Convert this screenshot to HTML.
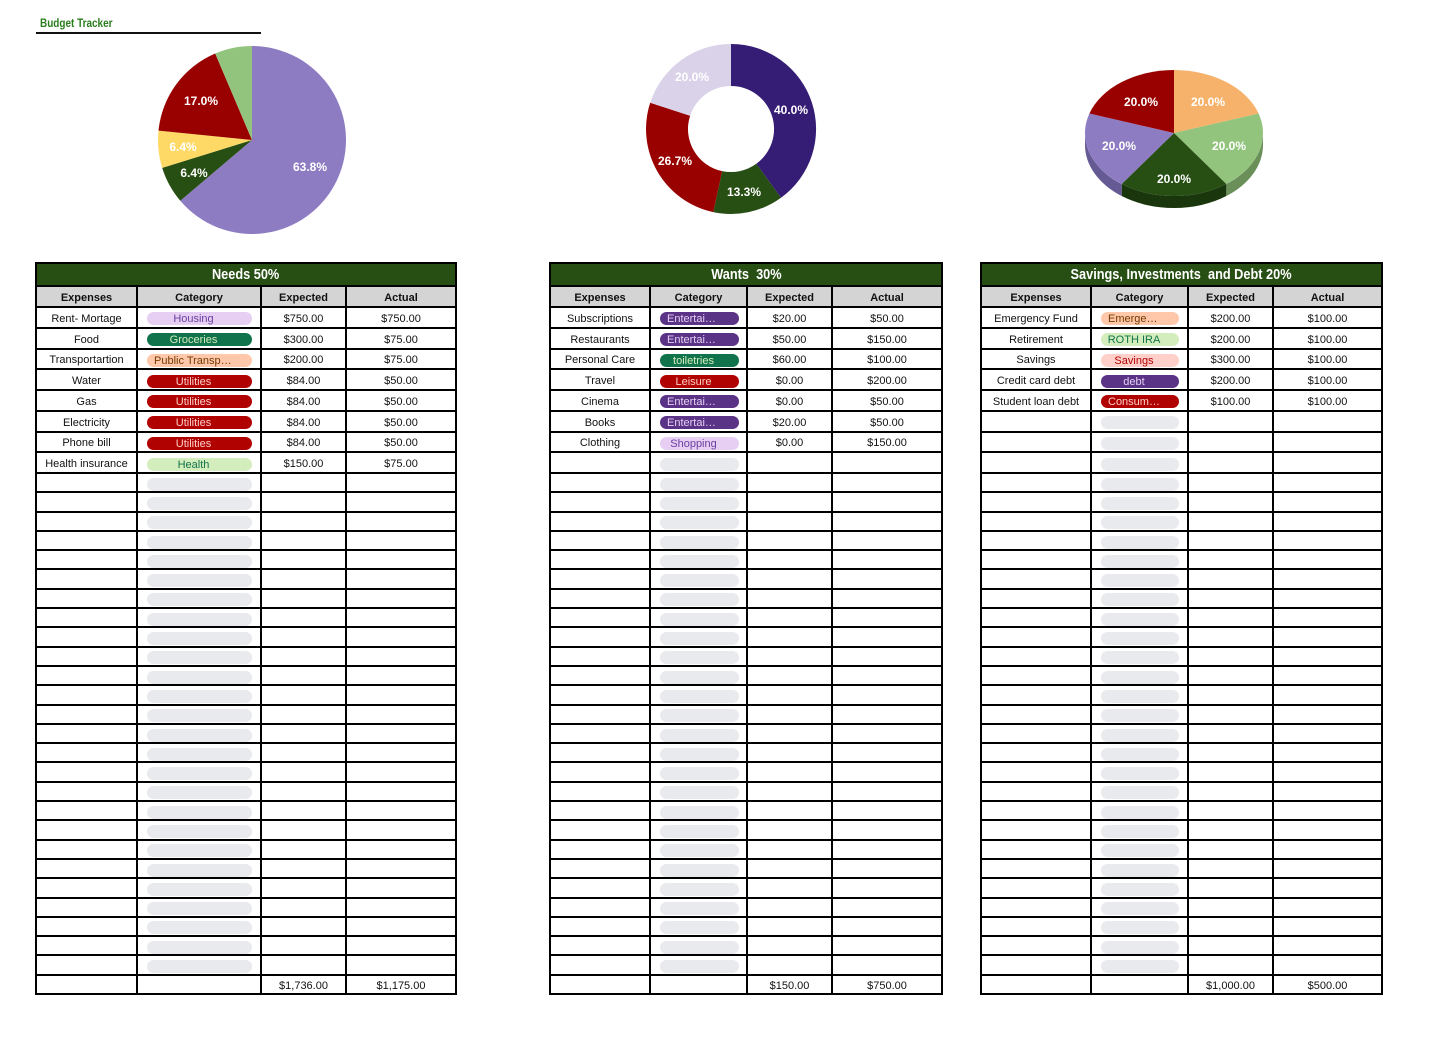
<!DOCTYPE html>
<html><head><meta charset="utf-8"><style>
*{margin:0;padding:0}
body{width:1445px;height:1040px;background:#fff;position:relative;overflow:hidden;font-family:"Liberation Sans",Arial,sans-serif;color:#111}
.bt{position:absolute;left:40px;top:16px;font-size:12px;font-weight:bold;color:#2a7d1c;transform:scaleX(.83);transform-origin:left top;white-space:nowrap}
.ul{position:absolute;left:36px;top:32px;width:225px;height:2px;background:#111}
.t{position:absolute;top:262px;height:733px;border:2px solid #000;box-sizing:border-box;display:flex;flex-direction:column}
.ttl{height:23px;flex:none;box-sizing:border-box;border-bottom:2px solid #000;background:#274e13;color:#fff;display:flex;align-items:center;justify-content:center}
.ttl span{display:inline-block;font-size:15px;font-weight:bold;transform:scaleX(.85);white-space:pre}
.r{display:flex;flex:none;box-sizing:border-box;border-bottom:2px solid #000;height:19.3px}
.r.d{height:20.75px}
.r.hd{height:21px;background:#d4d4d4;font-weight:bold}
.r.ft{border-bottom:none;flex:1}
.r>i{font-style:normal;box-sizing:border-box;border-right:2px solid #000;display:flex;align-items:center;justify-content:center;font-size:11px;overflow:hidden;white-space:nowrap;padding-top:3px}
.r>i:last-child{border-right:none;flex:1}
.r:not(.hd)>i:nth-child(2){justify-content:flex-start;padding-left:9px}
.p{display:block;flex:none;height:13px;border-radius:7px;font-weight:normal;font-size:11px;line-height:14px;text-align:center;padding-right:12px;box-sizing:border-box;overflow:hidden;white-space:nowrap}
.p.l{text-align:left;padding:0 0 0 7px}
.e{background:#e8eaed}
.hs{background:#e6cff2;color:#6a3fa0}
.gr{background:#11734b;color:#d4edbc}
.pt{background:#ffc8aa;color:#753800}
.ut{background:#b10202;color:#ffcfc9}
.he{background:#d4edbc;color:#11734b}
.en{background:#5a3286;color:#e5cff2}
.sv{background:#ffcfc9;color:#b10202}
#n{left:35px;width:422px}
#n .r>i:nth-child(1){width:101px}#n .r>i:nth-child(2){width:124px}#n .r>i:nth-child(3){width:85px}
#n .p{width:105px}
#w{left:549px;width:394px}
#w .r>i:nth-child(1){width:100px}#w .r>i:nth-child(2){width:97px}#w .r>i:nth-child(3){width:85px}
#w .p{width:79px}
#s{left:980px;width:403px}
#s .r>i:nth-child(1){width:110px}#s .r>i:nth-child(2){width:97px}#s .r>i:nth-child(3){width:85px}
#s .p{width:78px}
svg{position:absolute;left:0;top:0}
svg text{font-family:"Liberation Sans",Arial,sans-serif;font-weight:bold;font-size:12px;fill:#fff;text-anchor:middle}
</style></head><body>
<div class="bt">Budget Tracker</div>
<div class="ul"></div>
<svg width="1445" height="260" viewBox="0 0 1445 260">
<path d="M252,140 L252,46 A94,94 0 1 1 180.3,200.8 Z" fill="#8e7cc3"/>
<path d="M252,140 L180.3,200.8 A94,94 0 0 1 162.2,167.9 Z" fill="#274e13"/>
<path d="M252,140 L162.2,167.9 A94,94 0 0 1 158.5,130.6 Z" fill="#ffd966"/>
<path d="M252,140 L158.5,130.6 A94,94 0 0 1 215.2,53.5 Z" fill="#990000"/>
<path d="M252,140 L215.2,53.5 A94,94 0 0 1 252,46 Z" fill="#93c47d"/>
<text x="310" y="171">63.8%</text>
<text x="201" y="105">17.0%</text>
<text x="183" y="151">6.4%</text>
<text x="194" y="177">6.4%</text>

<path d="M731,44 A85,85 0 0 1 781,197.8 L756.3,163.8 A43,43 0 0 0 731,86 Z" fill="#351c75"/>
<path d="M781,197.8 A85,85 0 0 1 713.3,212.1 L722.1,171.1 A43,43 0 0 0 756.3,163.8 Z" fill="#274e13"/>
<path d="M713.3,212.1 A85,85 0 0 1 650.2,102.7 L690.1,115.7 A43,43 0 0 0 722.1,171.1 Z" fill="#990000"/>
<path d="M650.2,102.7 A85,85 0 0 1 731,44 L731,86 A43,43 0 0 0 690.1,115.7 Z" fill="#d9d2e9"/>
<text x="791" y="114">40.0%</text>
<text x="744" y="196">13.3%</text>
<text x="675" y="165">26.7%</text>
<text x="692" y="81">20.0%</text>

<path d="M1263,133 A89,63 0 0 1 1226.3,184 L1226.3,196 A89,63 0 0 0 1263,145 Z" fill="#6a8f58"/>
<path d="M1226.3,184 A89,63 0 0 1 1121.7,184 L1121.7,196 A89,63 0 0 0 1226.3,196 Z" fill="#1a360c"/>
<path d="M1121.7,184 A89,63 0 0 1 1085,133 L1085,145 A89,63 0 0 0 1121.7,196 Z" fill="#665a95"/>
<path d="M1174,133 L1174,70 A89,63 0 0 1 1258.6,113.5 Z" fill="#f6b26b"/>
<path d="M1174,133 L1258.6,113.5 A89,63 0 0 1 1226.3,184 Z" fill="#93c47d"/>
<path d="M1174,133 L1226.3,184 A89,63 0 0 1 1121.7,184 Z" fill="#274e13"/>
<path d="M1174,133 L1121.7,184 A89,63 0 0 1 1089.4,113.5 Z" fill="#8e7cc3"/>
<path d="M1174,133 L1089.4,113.5 A89,63 0 0 1 1174,70 Z" fill="#990000"/>
<text x="1141" y="106">20.0%</text>
<text x="1208" y="106">20.0%</text>
<text x="1229" y="150">20.0%</text>
<text x="1174" y="183">20.0%</text>
<text x="1119" y="150">20.0%</text>
</svg>

<div class="t" id="n">
<div class="ttl"><span>Needs 50%</span></div>
<div class="r hd"><i>Expenses</i><i>Category</i><i>Expected</i><i>Actual</i></div>
<div class="r d"><i>Rent- Mortage</i><i><b class="p hs">Housing</b></i><i>$750.00</i><i>$750.00</i></div>
<div class="r d"><i>Food</i><i><b class="p gr">Groceries</b></i><i>$300.00</i><i>$75.00</i></div>
<div class="r d"><i>Transportartion</i><i><b class="p pt l">Public Transp…</b></i><i>$200.00</i><i>$75.00</i></div>
<div class="r d"><i>Water</i><i><b class="p ut">Utilities</b></i><i>$84.00</i><i>$50.00</i></div>
<div class="r d"><i>Gas</i><i><b class="p ut">Utilities</b></i><i>$84.00</i><i>$50.00</i></div>
<div class="r d"><i>Electricity</i><i><b class="p ut">Utilities</b></i><i>$84.00</i><i>$50.00</i></div>
<div class="r d"><i>Phone bill</i><i><b class="p ut">Utilities</b></i><i>$84.00</i><i>$50.00</i></div>
<div class="r d"><i>Health insurance</i><i><b class="p he">Health</b></i><i>$150.00</i><i>$75.00</i></div>
<div class="r"><i></i><i><b class="p e"></b></i><i></i><i></i></div>
<div class="r"><i></i><i><b class="p e"></b></i><i></i><i></i></div>
<div class="r"><i></i><i><b class="p e"></b></i><i></i><i></i></div>
<div class="r"><i></i><i><b class="p e"></b></i><i></i><i></i></div>
<div class="r"><i></i><i><b class="p e"></b></i><i></i><i></i></div>
<div class="r"><i></i><i><b class="p e"></b></i><i></i><i></i></div>
<div class="r"><i></i><i><b class="p e"></b></i><i></i><i></i></div>
<div class="r"><i></i><i><b class="p e"></b></i><i></i><i></i></div>
<div class="r"><i></i><i><b class="p e"></b></i><i></i><i></i></div>
<div class="r"><i></i><i><b class="p e"></b></i><i></i><i></i></div>
<div class="r"><i></i><i><b class="p e"></b></i><i></i><i></i></div>
<div class="r"><i></i><i><b class="p e"></b></i><i></i><i></i></div>
<div class="r"><i></i><i><b class="p e"></b></i><i></i><i></i></div>
<div class="r"><i></i><i><b class="p e"></b></i><i></i><i></i></div>
<div class="r"><i></i><i><b class="p e"></b></i><i></i><i></i></div>
<div class="r"><i></i><i><b class="p e"></b></i><i></i><i></i></div>
<div class="r"><i></i><i><b class="p e"></b></i><i></i><i></i></div>
<div class="r"><i></i><i><b class="p e"></b></i><i></i><i></i></div>
<div class="r"><i></i><i><b class="p e"></b></i><i></i><i></i></div>
<div class="r"><i></i><i><b class="p e"></b></i><i></i><i></i></div>
<div class="r"><i></i><i><b class="p e"></b></i><i></i><i></i></div>
<div class="r"><i></i><i><b class="p e"></b></i><i></i><i></i></div>
<div class="r"><i></i><i><b class="p e"></b></i><i></i><i></i></div>
<div class="r"><i></i><i><b class="p e"></b></i><i></i><i></i></div>
<div class="r"><i></i><i><b class="p e"></b></i><i></i><i></i></div>
<div class="r"><i></i><i><b class="p e"></b></i><i></i><i></i></div>
<div class="r ft"><i></i><i></i><i>$1,736.00</i><i>$1,175.00</i></div>
</div>

<div class="t" id="w">
<div class="ttl"><span>Wants  30%</span></div>
<div class="r hd"><i>Expenses</i><i>Category</i><i>Expected</i><i>Actual</i></div>
<div class="r d"><i>Subscriptions</i><i><b class="p en l">Entertai…</b></i><i>$20.00</i><i>$50.00</i></div>
<div class="r d"><i>Restaurants</i><i><b class="p en l">Entertai…</b></i><i>$50.00</i><i>$150.00</i></div>
<div class="r d"><i>Personal Care</i><i><b class="p gr">toiletries</b></i><i>$60.00</i><i>$100.00</i></div>
<div class="r d"><i>Travel</i><i><b class="p ut">Leisure</b></i><i>$0.00</i><i>$200.00</i></div>
<div class="r d"><i>Cinema</i><i><b class="p en l">Entertai…</b></i><i>$0.00</i><i>$50.00</i></div>
<div class="r d"><i>Books</i><i><b class="p en l">Entertai…</b></i><i>$20.00</i><i>$50.00</i></div>
<div class="r d"><i>Clothing</i><i><b class="p hs">Shopping</b></i><i>$0.00</i><i>$150.00</i></div>
<div class="r d"><i></i><i><b class="p e"></b></i><i></i><i></i></div>
<div class="r"><i></i><i><b class="p e"></b></i><i></i><i></i></div>
<div class="r"><i></i><i><b class="p e"></b></i><i></i><i></i></div>
<div class="r"><i></i><i><b class="p e"></b></i><i></i><i></i></div>
<div class="r"><i></i><i><b class="p e"></b></i><i></i><i></i></div>
<div class="r"><i></i><i><b class="p e"></b></i><i></i><i></i></div>
<div class="r"><i></i><i><b class="p e"></b></i><i></i><i></i></div>
<div class="r"><i></i><i><b class="p e"></b></i><i></i><i></i></div>
<div class="r"><i></i><i><b class="p e"></b></i><i></i><i></i></div>
<div class="r"><i></i><i><b class="p e"></b></i><i></i><i></i></div>
<div class="r"><i></i><i><b class="p e"></b></i><i></i><i></i></div>
<div class="r"><i></i><i><b class="p e"></b></i><i></i><i></i></div>
<div class="r"><i></i><i><b class="p e"></b></i><i></i><i></i></div>
<div class="r"><i></i><i><b class="p e"></b></i><i></i><i></i></div>
<div class="r"><i></i><i><b class="p e"></b></i><i></i><i></i></div>
<div class="r"><i></i><i><b class="p e"></b></i><i></i><i></i></div>
<div class="r"><i></i><i><b class="p e"></b></i><i></i><i></i></div>
<div class="r"><i></i><i><b class="p e"></b></i><i></i><i></i></div>
<div class="r"><i></i><i><b class="p e"></b></i><i></i><i></i></div>
<div class="r"><i></i><i><b class="p e"></b></i><i></i><i></i></div>
<div class="r"><i></i><i><b class="p e"></b></i><i></i><i></i></div>
<div class="r"><i></i><i><b class="p e"></b></i><i></i><i></i></div>
<div class="r"><i></i><i><b class="p e"></b></i><i></i><i></i></div>
<div class="r"><i></i><i><b class="p e"></b></i><i></i><i></i></div>
<div class="r"><i></i><i><b class="p e"></b></i><i></i><i></i></div>
<div class="r"><i></i><i><b class="p e"></b></i><i></i><i></i></div>
<div class="r"><i></i><i><b class="p e"></b></i><i></i><i></i></div>
<div class="r ft"><i></i><i></i><i>$150.00</i><i>$750.00</i></div>
</div>

<div class="t" id="s">
<div class="ttl"><span>Savings, Investments  and Debt 20%</span></div>
<div class="r hd"><i>Expenses</i><i>Category</i><i>Expected</i><i>Actual</i></div>
<div class="r d"><i>Emergency Fund</i><i><b class="p pt l">Emerge…</b></i><i>$200.00</i><i>$100.00</i></div>
<div class="r d"><i>Retirement</i><i><b class="p he">ROTH IRA</b></i><i>$200.00</i><i>$100.00</i></div>
<div class="r d"><i>Savings</i><i><b class="p sv">Savings</b></i><i>$300.00</i><i>$100.00</i></div>
<div class="r d"><i>Credit card debt</i><i><b class="p en">debt</b></i><i>$200.00</i><i>$100.00</i></div>
<div class="r d"><i>Student loan debt</i><i><b class="p ut l">Consum…</b></i><i>$100.00</i><i>$100.00</i></div>
<div class="r d"><i></i><i><b class="p e"></b></i><i></i><i></i></div>
<div class="r d"><i></i><i><b class="p e"></b></i><i></i><i></i></div>
<div class="r d"><i></i><i><b class="p e"></b></i><i></i><i></i></div>
<div class="r"><i></i><i><b class="p e"></b></i><i></i><i></i></div>
<div class="r"><i></i><i><b class="p e"></b></i><i></i><i></i></div>
<div class="r"><i></i><i><b class="p e"></b></i><i></i><i></i></div>
<div class="r"><i></i><i><b class="p e"></b></i><i></i><i></i></div>
<div class="r"><i></i><i><b class="p e"></b></i><i></i><i></i></div>
<div class="r"><i></i><i><b class="p e"></b></i><i></i><i></i></div>
<div class="r"><i></i><i><b class="p e"></b></i><i></i><i></i></div>
<div class="r"><i></i><i><b class="p e"></b></i><i></i><i></i></div>
<div class="r"><i></i><i><b class="p e"></b></i><i></i><i></i></div>
<div class="r"><i></i><i><b class="p e"></b></i><i></i><i></i></div>
<div class="r"><i></i><i><b class="p e"></b></i><i></i><i></i></div>
<div class="r"><i></i><i><b class="p e"></b></i><i></i><i></i></div>
<div class="r"><i></i><i><b class="p e"></b></i><i></i><i></i></div>
<div class="r"><i></i><i><b class="p e"></b></i><i></i><i></i></div>
<div class="r"><i></i><i><b class="p e"></b></i><i></i><i></i></div>
<div class="r"><i></i><i><b class="p e"></b></i><i></i><i></i></div>
<div class="r"><i></i><i><b class="p e"></b></i><i></i><i></i></div>
<div class="r"><i></i><i><b class="p e"></b></i><i></i><i></i></div>
<div class="r"><i></i><i><b class="p e"></b></i><i></i><i></i></div>
<div class="r"><i></i><i><b class="p e"></b></i><i></i><i></i></div>
<div class="r"><i></i><i><b class="p e"></b></i><i></i><i></i></div>
<div class="r"><i></i><i><b class="p e"></b></i><i></i><i></i></div>
<div class="r"><i></i><i><b class="p e"></b></i><i></i><i></i></div>
<div class="r"><i></i><i><b class="p e"></b></i><i></i><i></i></div>
<div class="r"><i></i><i><b class="p e"></b></i><i></i><i></i></div>
<div class="r"><i></i><i><b class="p e"></b></i><i></i><i></i></div>
<div class="r ft"><i></i><i></i><i>$1,000.00</i><i>$500.00</i></div>
</div>
</body></html>
